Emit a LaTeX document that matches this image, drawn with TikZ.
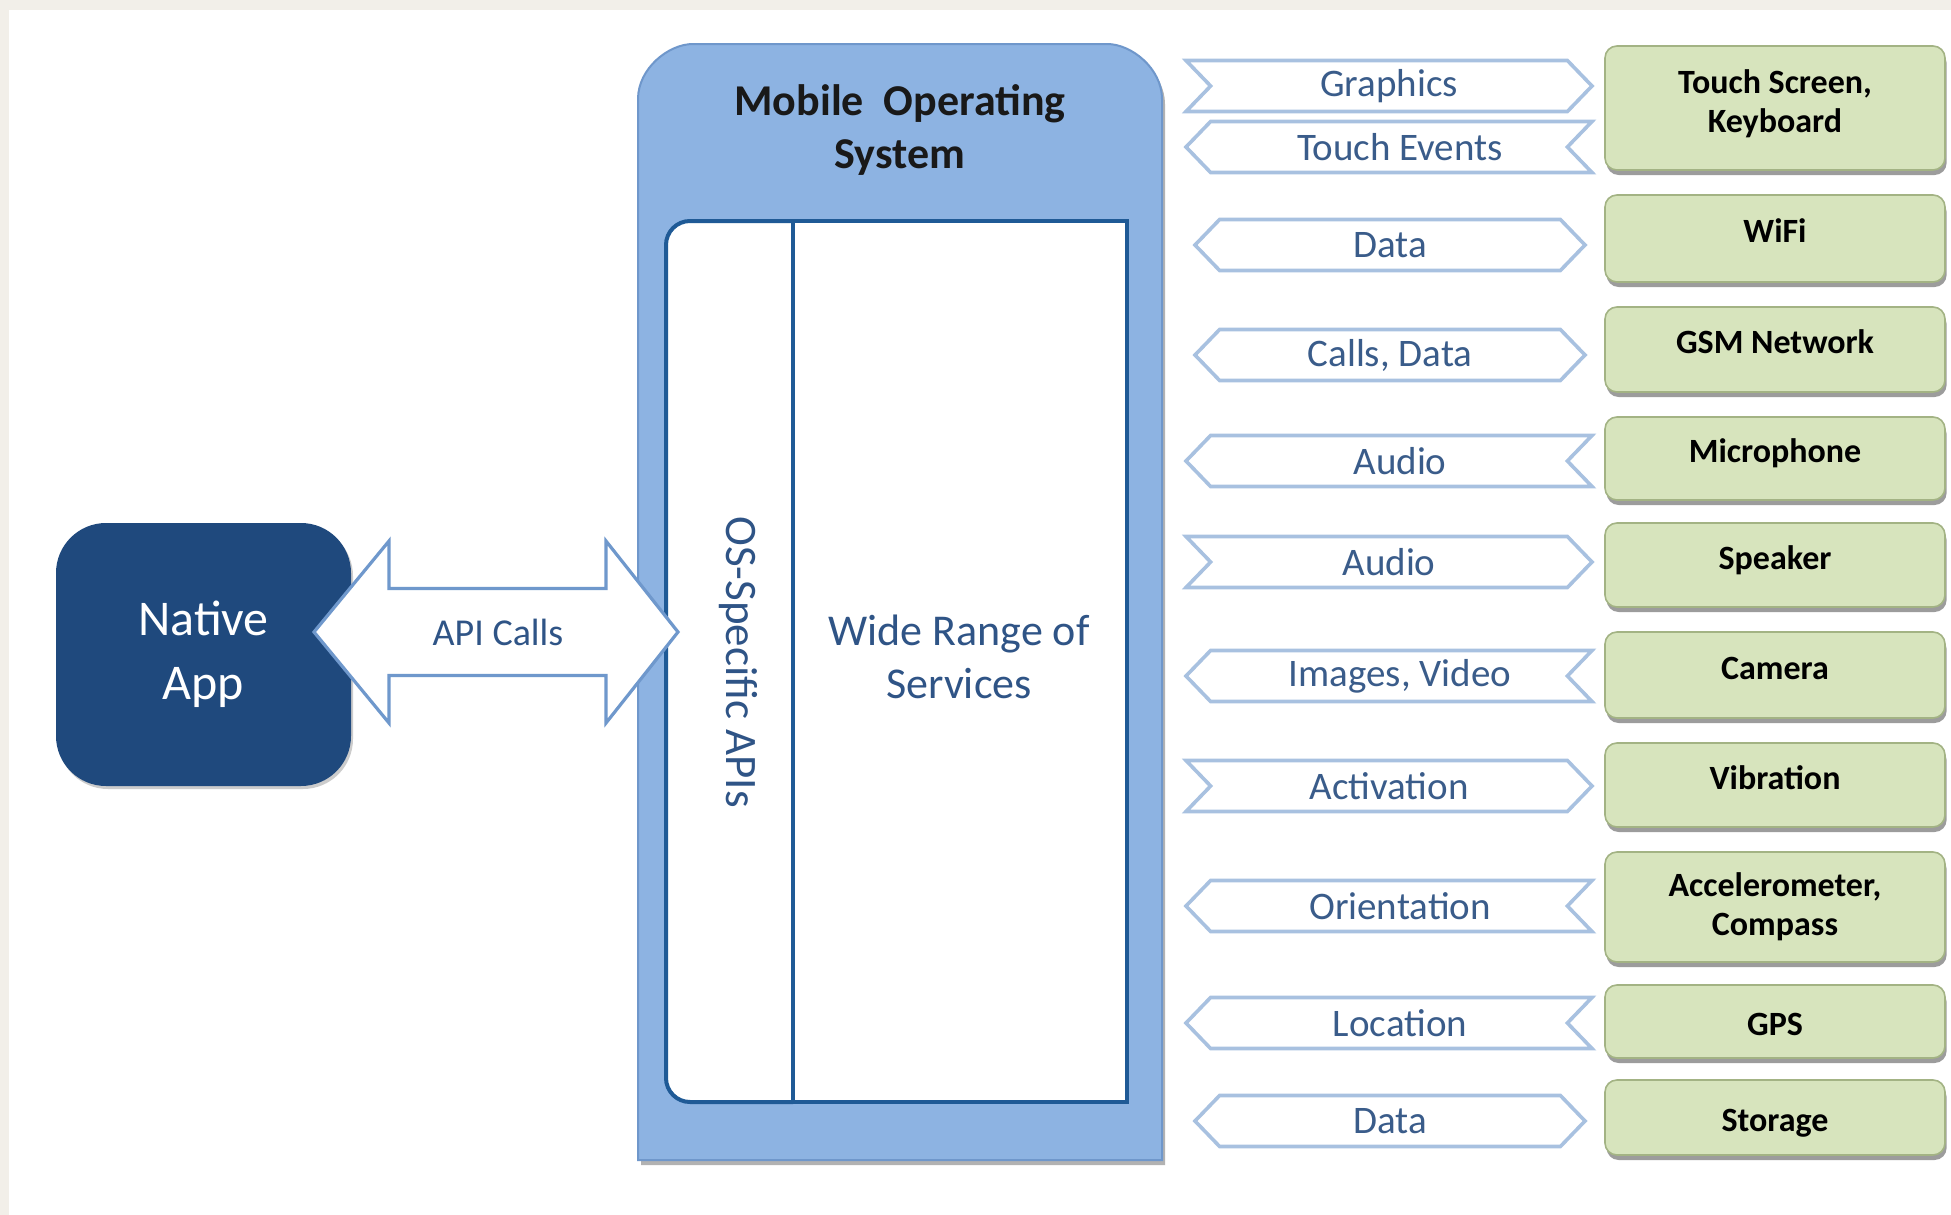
\documentclass[tikz,border=0pt]{standalone}
\usepackage{fontspec}
\setmainfont{Carlito}
\usetikzlibrary{shapes.symbols,shadows}
\definecolor{appblue}{HTML}{1F497D}
\definecolor{osfill}{HTML}{8DB3E2}
\definecolor{osedge}{HTML}{6F97CB}
\definecolor{paneledge}{HTML}{1F5A96}
\definecolor{greenfill}{HTML}{D7E4BD}
\definecolor{greenedge}{HTML}{A3B384}
\definecolor{lbledge}{HTML}{A8C1E0}
\definecolor{lbltext}{HTML}{3A5C8A}
\definecolor{apiedge}{HTML}{6F98CC}
\definecolor{paper}{HTML}{F2EFE9}
\definecolor{svctext}{HTML}{2F5486}
\begin{document}
\begin{tikzpicture}[x=0.5pt,y=-0.5pt,
  hwbase/.style={rectangle, rounded corners=6pt, fill=greenfill, draw=greenedge,
    line width=0.8pt, minimum width=170pt, minimum height=#1, inner sep=0pt,
    font=\bfseries\fontsize{17}{19.5}\selectfont, align=center,
    drop shadow={shadow xshift=0.8pt, shadow yshift=-2.5pt, fill=black!70, opacity=0.55}},
  hw/.style={hwbase=#1, text height=0.75em, text depth=0.35em},
  lbltxt/.style={font=\fontsize{19.5}{22}\selectfont, text=lbltext, inner sep=0pt},
  lbl/.style={signal, draw=lbledge, line width=1.8pt, fill=white,
    minimum height=25.5pt, inner sep=0pt, signal pointer angle=92, lbltxt},
  toR/.style={lbl, minimum width=203pt, signal to=east, signal from=west},
  toL/.style={lbl, minimum width=203pt, signal to=west, signal from=east,
    label={[lbltxt, xshift=5.5pt]center:#1}},
  both/.style={lbl, minimum width=195pt, signal to=east and west},
  apiarrow/.style={fill=white, draw=apiedge, line width=1.6pt, line join=miter},
]
\useasboundingbox (0,0) rectangle (1951,1215);
\fill[white] (0,0) rectangle (1951,1215);
\fill[paper] (0,0) rectangle (1951,10);
\fill[paper] (0,0) rectangle (9,1215);

% Mobile OS box
\path[fill=osfill, draw=osedge, line width=1pt,
  drop shadow={shadow xshift=1.5pt, shadow yshift=-2.5pt, fill=black!60, opacity=0.5}]
  (638,1160) -- (638,99) .. controls (638,68.6) and (668.4,44) .. (693,44)
  -- (1107,44) .. controls (1131.6,44) and (1162,68.6) .. (1162,99)
  -- (1162,1160) -- cycle;
\node[font=\bfseries\fontsize{22}{26.5}\selectfont, text=black!90, align=center]
  (title) at (900,130) {Mobile~ Operating\\System};

% inner panel
\path[fill=white, draw=paneledge, line width=2pt, rounded corners=12pt]
  (793,221) -- (666,221) -- (666,1102) -- (793,1102);
\node[rectangle, draw=paneledge, line width=2pt, fill=white,
  minimum width=167pt, minimum height=440.5pt] (svcbox) at (960,661.5) {};
\node[font=\fontsize{22}{26.5}\selectfont, text=svctext, align=center]
  (services) at (959,657) {Wide Range of\\Services};
\node[font=\fontsize{22.5}{26}\selectfont, text=svctext, rotate=-90]
  (apis) at (738,662) {OS-Specific APIs};

% Native app
\node[rectangle, rounded corners=25pt, fill=appblue, minimum width=147.5pt,
  minimum height=131.5pt, text=white, align=center,
  font=\fontsize{25}{32}\selectfont,
  drop shadow={shadow xshift=1pt, shadow yshift=-1.5pt, fill=black!50, opacity=0.4}]
  (app) at (203.5,654.5) {Native\\App};

% API calls double arrow
\draw[apiarrow] (314,632) -- (389,541) -- (389,588.5) -- (606,588.5) -- (606,541)
  -- (678,632) -- (606,723) -- (606,675.5) -- (389,675.5) -- (389,723) -- cycle;
\node[font=\fontsize{19}{22}\selectfont, text=svctext] (api) at (498,632) {API Calls};

% hardware boxes
\node[hwbase=62pt, text depth=7pt] (touch) at (1775,108) {Touch Screen,\\Keyboard};
\node[hw=43.5pt]   (wifi)  at (1775,238.5) {WiFi};
\node[hw=42.5pt]   (gsm)   at (1775,349.5) {GSM Network};
\node[hw=41.5pt]   (mic)   at (1775,458.5) {Microphone};
\node[hw=42pt]     (spk)   at (1775,565)   {Speaker};
\node[hw=43pt]     (cam)   at (1775,675)   {Camera};
\node[hw=42pt]     (vib)   at (1775,785)   {Vibration};
\node[hwbase=55pt] (acc)   at (1775,907)   {Accelerometer,\\Compass};
\node[hw=36.5pt, text height=17.5pt] (gps) at (1775,1021.5) {GPS};
\node[hw=37.5pt, text height=17.5pt] (sto) at (1775,1117.5) {Storage};

% data flow labels
\node[toR]  (l1)  at (1389,86)   {Graphics};
\node[toL={Touch Events}]  (l2)  at (1389,147)  {};
\node[both] (l3)  at (1390,245)  {Data};
\node[both] (l4)  at (1390,355)  {Calls, Data};
\node[toL={Audio}]  (l5)  at (1389,461)  {};
\node[toR]  (l6)  at (1389,562)  {Audio};
\node[toL={Images, Video}]  (l7)  at (1389,676)  {};
\node[toR]  (l8)  at (1389,786)  {Activation};
\node[toL={Orientation}]  (l9)  at (1389,906)  {};
\node[toL={Location}]  (l10) at (1389,1023) {};
\node[both] (l11) at (1390,1121) {Data};
\end{tikzpicture}
\end{document}
